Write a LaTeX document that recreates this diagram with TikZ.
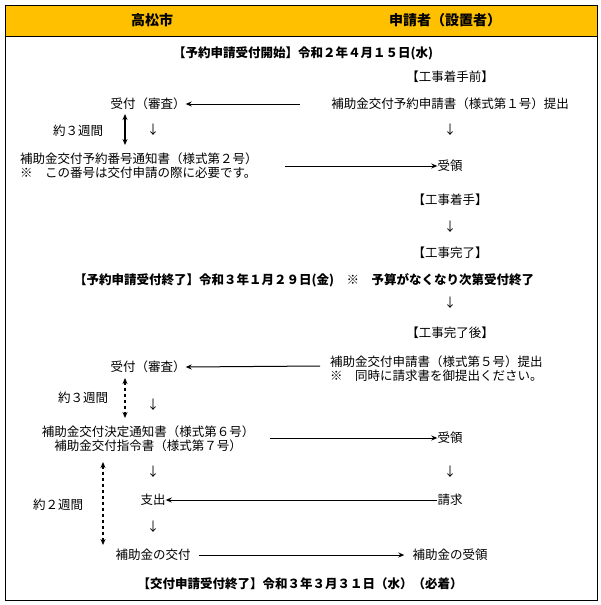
\documentclass[tikz,border=0pt]{standalone}
\usepackage{fontspec}
\setmainfont{Noto Sans CJK JP}
\usetikzlibrary{arrows.meta}
\definecolor{hdr}{HTML}{FFC000}
\tikzset{
  txt/.style={inner sep=0pt,font=\fontsize{12.5}{14}\selectfont},
  btxt/.style={inner sep=0pt,font=\fontsize{12.5}{14}\selectfont\bfseries},
  flow/.style={-{Stealth[length=6pt,width=5pt]},line width=1pt},
  dflow/.style={{Stealth[length=6pt,width=5pt]}-{Stealth[length=6pt,width=5pt]},line width=1.3pt,dashed},
  sflow/.style={{Stealth[length=6pt,width=5pt]}-{Stealth[length=6pt,width=5pt]},line width=1.3pt},
}
\begin{document}
\begin{tikzpicture}[x=1pt,y=-1pt]
\useasboundingbox (0,0) rectangle (600,605);
\fill[hdr] (5,5) rectangle (597,36);
\draw[line width=1pt] (5,5) rectangle (597,600);
\draw[line width=0.8pt] (5,36) -- (597,36);
\node[btxt,font=\fontsize{14}{16}\selectfont\bfseries] (h1) at (152,20) {高松市};
\node[btxt,font=\fontsize{14}{16}\selectfont\bfseries] (h2) at (445,20) {申請者（設置者）};
\node[btxt] (t1) at (303,53) {【予約申請受付開始】令和２年４月１５日(水)};
\node[txt] (a0) at (450,77) {【工事着手前】};
\node[txt] (a1) at (450,104) {補助金交付予約申請書（様式第１号）提出};
\node[txt] (l1) at (148,104) {受付（審査）};
\draw[flow] (300,104) -- (l1.east);
\node[txt] (dl1) at (153,130) {↓};
\node[txt] (dr1) at (450,130) {↓};
\node[txt] (w1) at (78,131) {約３週間};
\coordinate (w1a) at (125,114);
\coordinate (w1b) at (125,145);
\draw[sflow] (w1a) -- (w1b);
\node[txt,anchor=west,align=left] (l2) at (20,166) {補助金交付予約番号通知書（様式第２号）\\※　この番号は交付申請の際に必要です。};
\node[txt] (a2) at (450,166) {受領};
\draw[flow] (285,166) -- (a2.west);
\node[txt] (a3) at (450,200) {【工事着手】};
\node[txt] (dr2) at (450,227) {↓};
\node[txt] (a4) at (450,253) {【工事完了】};
\node[btxt] (t2) at (304,280) {【予約申請受付終了】令和３年１月２９日(金)　※　予算がなくなり次第受付終了};
\node[txt] (dr3) at (450,303) {↓};
\node[txt] (a5) at (450,333) {【工事完了後】};
\node[txt,anchor=west,align=left] (a6) at (330,369) {補助金交付申請書（様式第５号）提出\\※　同時に請求書を御提出ください。};
\node[txt] (l3) at (148,367) {受付（審査）};
\draw[flow] (320,366) -- (l3.east);
\node[txt] (w2) at (83,398) {約３週間};
\draw[dflow] (125,378) -- (125,418);
\node[txt] (dl2) at (153,405) {↓};
\node[txt,align=center] (l4) at (148,439) {補助金交付決定通知書（様式第６号）\\補助金交付指令書（様式第７号）};
\node[txt] (a7) at (450,438) {受領};
\draw[flow] (270,438) -- (a7.west);
\node[txt] (dl3) at (153,472) {↓};
\node[txt] (dr4) at (450,472) {↓};
\node[txt] (l5) at (153,500) {支出};
\node[txt] (a8) at (450,500) {請求};
\draw[flow] (a8.west) -- (l5.east);
\node[txt] (dl4) at (153,527) {↓};
\node[txt] (w3) at (58,505) {約２週間};
\draw[dflow] (103,462) -- (103,545);
\node[txt] (l6) at (153,555) {補助金の交付};
\node[txt] (a9) at (450,555) {補助金の受領};
\draw[flow] (l6.east) ++(8,0) -- ([xshift=-8pt]a9.west);
\node[btxt] (t3) at (300,584) {【交付申請受付終了】令和３年３月３１日（水）（必着）};
\end{tikzpicture}
\end{document}
